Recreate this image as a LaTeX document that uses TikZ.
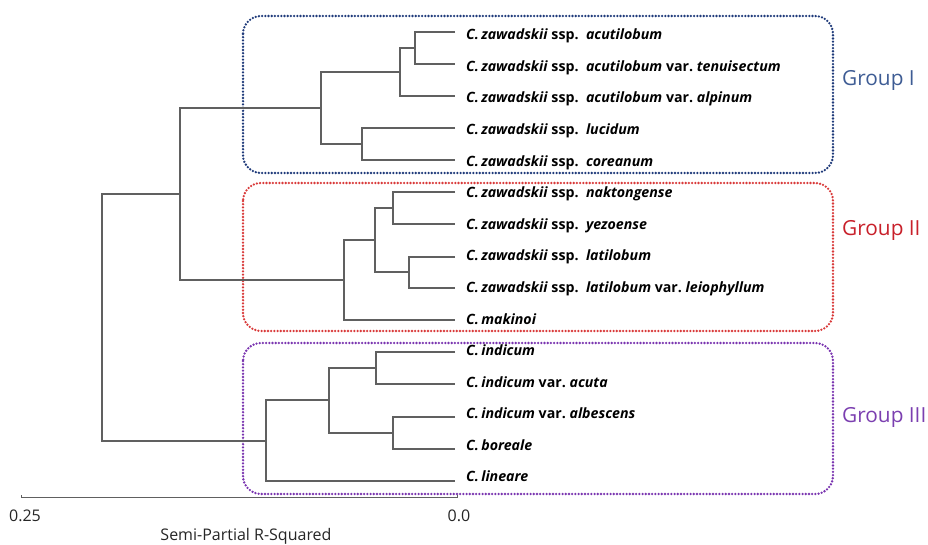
\documentclass[tikz,border=0pt]{standalone}
\usepackage{fontspec}
\setmainfont{Open Sans}
\definecolor{branch}{HTML}{606060}
\definecolor{gIbox}{HTML}{1F3A7A}
\definecolor{gIIbox}{HTML}{D93A3A}
\definecolor{gIIIbox}{HTML}{7A35B0}
\definecolor{gItext}{HTML}{3E5C94}
\definecolor{gIItext}{HTML}{C8202A}
\definecolor{gIIItext}{HTML}{7B3FB0}
\newcommand{\spz}{\textit{C.\,zawadskii} ssp.\ \ }
\begin{document}
\begin{tikzpicture}[x=1pt,y=-1pt,
  br/.style={draw=branch,line width=1.1pt},
  leaf/.style={anchor=west,inner sep=0pt,text height=10pt,text depth=0pt,font=\fontsize{14.2}{16}\selectfont\bfseries},
  grpbox/.style={line width=2.6pt,dash pattern=on 0pt off 3.2pt,line cap=round,rounded corners=18pt},
  grplab/.style={anchor=west,inner sep=0pt,font=\fontsize{20.8}{24}\selectfont},
  ax/.style={font=\fontsize{16}{18}\selectfont,text=black!85}]
\useasboundingbox (0,0) rectangle (928,545);
% group boxes
\draw[grpbox,draw=gIbox] (243,16) rectangle (833,173);
\draw[grpbox,draw=gIIbox] (243,183) rectangle (833,331);
\draw[grpbox,draw=gIIIbox] (243,343) rectangle (833,494);
\node[grplab,text=gItext] (g1) at (842,80) {Group I};
\node[grplab,text=gIItext] (g2) at (842,230) {Group II};
\node[grplab,text=gIIItext] (g3) at (842,417) {Group III};
% leaf tips
\coordinate (l1) at (455,32);
\coordinate (l2) at (455,64);
\coordinate (l3) at (455,96);
\coordinate (l4) at (455,128);
\coordinate (l5) at (455,160);
\coordinate (l6) at (455,192);
\coordinate (l7) at (455,224);
\coordinate (l8) at (455,257);
\coordinate (l9) at (455,288);
\coordinate (l10) at (455,320);
\coordinate (l11) at (455,352);
\coordinate (l12) at (455,384);
\coordinate (l13) at (455,417);
\coordinate (l14) at (455,449);
\coordinate (l15) at (455,481);
% labels
\node[leaf] (t1) at (466,35) {\spz\textit{acutilobum}};
\node[leaf] (t2) at (466,66.5) {\spz\textit{acutilobum} var.\ \textit{tenuisectum}};
\node[leaf] (t3) at (466,98) {\spz\textit{acutilobum} var.\ \textit{alpinum}};
\node[leaf] (t4) at (466,129.6) {\spz\textit{lucidum}};
\node[leaf] (t5) at (466,161.2) {\spz\textit{coreanum}};
\node[leaf] (t6) at (466,192.8) {\spz\textit{naktongense}};
\node[leaf] (t7) at (466,224.3) {\spz\textit{yezoense}};
\node[leaf] (t8) at (466,255.9) {\spz\textit{latilobum}};
\node[leaf] (t9) at (466,287.4) {\spz\textit{latilobum} var.\ \textit{leiophyllum}};
\node[leaf] (t10) at (466,319) {\textit{C.\,makinoi}};
\node[leaf] (t11) at (466,350.5) {\textit{C.\,indicum}};
\node[leaf] (t12) at (466,382) {\textit{C.\,indicum} var.\ \textit{acuta}};
\node[leaf] (t13) at (466,413.6) {\textit{C.\,indicum} var.\ \textit{albescens}};
\node[leaf] (t14) at (466,445.2) {\textit{C.\,boreale}};
\node[leaf] (t15) at (466,476.7) {\textit{C.\,lineare}};
% internal nodes
\coordinate (n12) at (415,48);
\coordinate (n123) at (400,72);
\coordinate (n45) at (362,144);
\coordinate (nG1) at (321,108);
\coordinate (n67) at (393,208);
\coordinate (n89) at (409,272);
\coordinate (n69) at (375,240);
\coordinate (nG2) at (344,280);
\coordinate (nA) at (180,194);
\coordinate (n1112) at (376,368);
\coordinate (n1314) at (393,433);
\coordinate (n1114) at (329,400);
\coordinate (nG3) at (266,441);
\coordinate (root) at (102,317);
% branches
\draw[br] (l1) -| (n12) |- (l2);
\draw[br] (n12) -| (n123) |- (l3);
\draw[br] (l4) -| (n45) |- (l5);
\draw[br] (n123) -| (nG1) |- (n45);
\draw[br] (l6) -| (n67) |- (l7);
\draw[br] (l8) -| (n89) |- (l9);
\draw[br] (n67) -| (n69) |- (n89);
\draw[br] (n69) -| (nG2) |- (l10);
\draw[br] (nG1) -| (nA) |- (nG2);
\draw[br] (l11) -| (n1112) |- (l12);
\draw[br] (l13) -| (n1314) |- (l14);
\draw[br] (n1112) -| (n1114) |- (n1314);
\draw[br] (n1114) -| (nG3) |- (l15);
\draw[br] (nA) -| (root) |- (nG3);
% axis
\coordinate (a0) at (21,497);
\coordinate (a1) at (457,497);
\draw[br,line width=0.9pt] ([yshift=2pt]a0) -- (a0) -- (a1) -- ([yshift=2pt]a1);
\node[ax] (x0) at (25,516) {0.25};
\node[ax] (x1) at (459,516) {0.0};
\node[ax] (xl) at (246,536) {Semi-Partial R-Squared};
\end{tikzpicture}
\end{document}
